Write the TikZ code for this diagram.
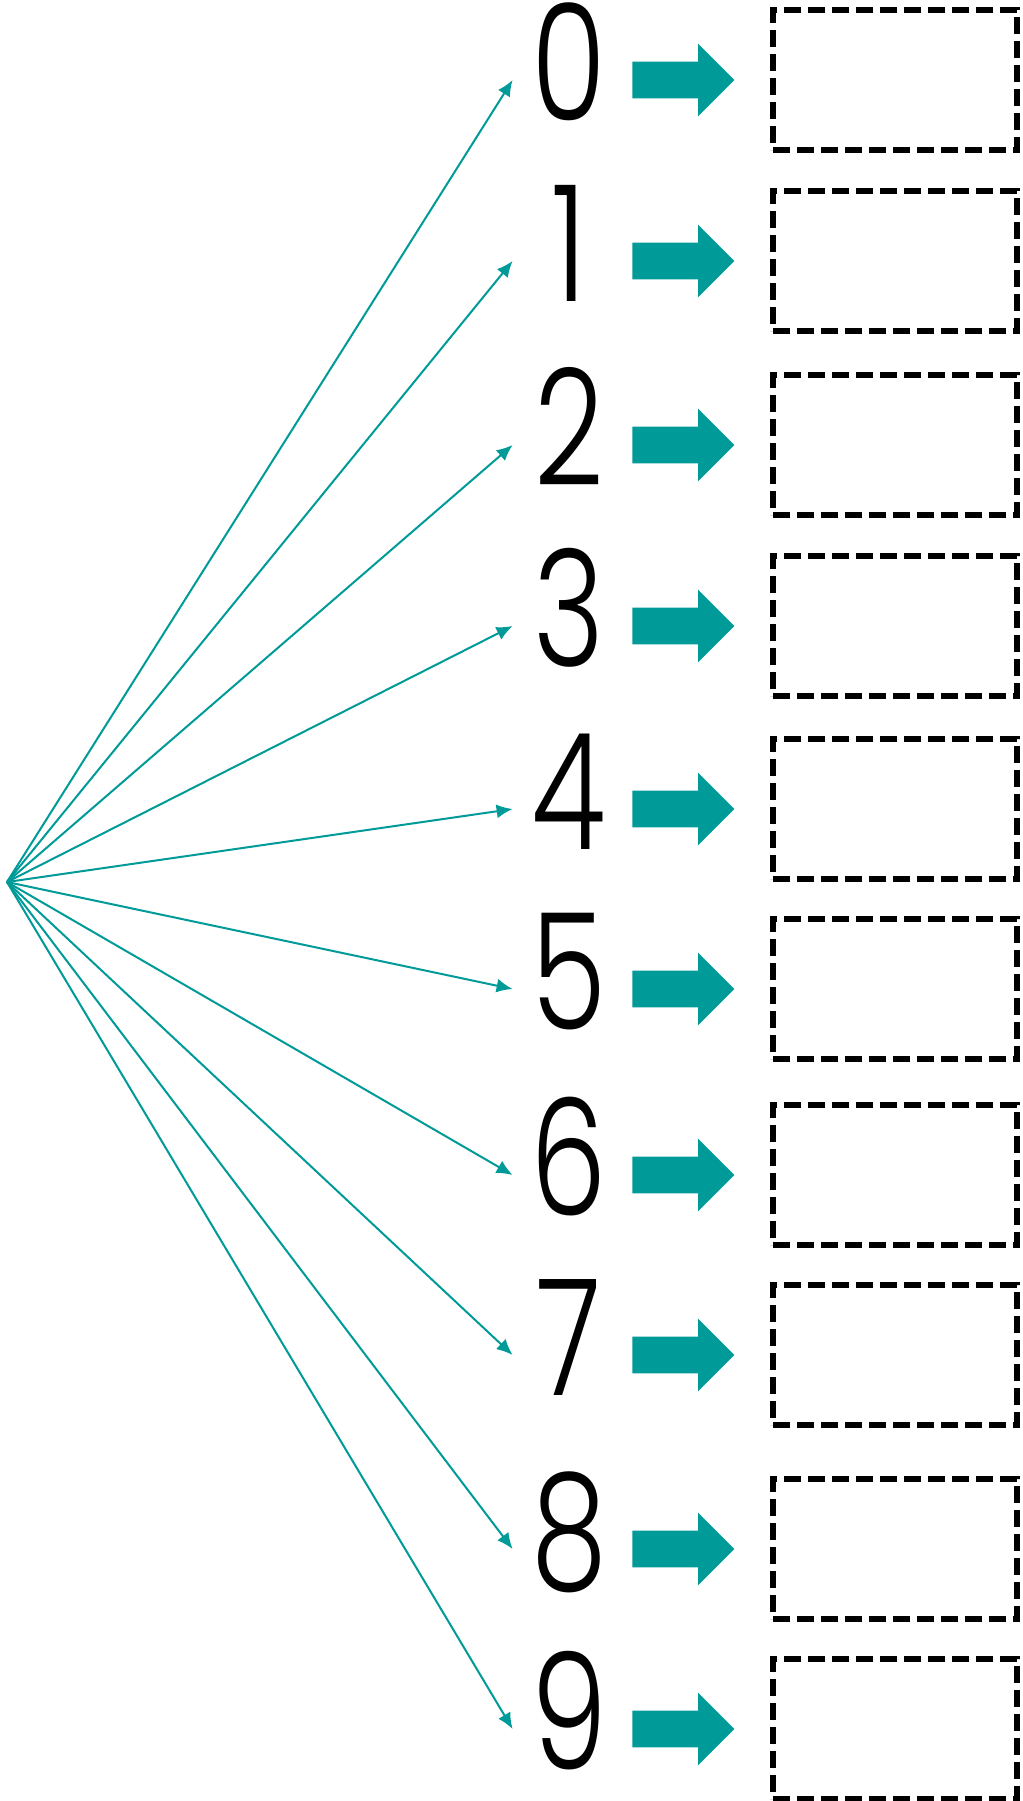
\documentclass[tikz,border=0pt]{standalone}
\usepackage{fontspec}
\setmainfont{Poppins}[UprightFont={* Light},FakeStretch=0.75]
\usetikzlibrary{shapes.arrows,arrows.meta,positioning}
\definecolor{tealarr}{RGB}{0,154,152}

\begin{document}
\begin{tikzpicture}[x=0.5pt,y=-0.5pt,
  digit/.style={inner sep=0pt,text height=53.5pt,text depth=13pt,minimum width=56pt,font=\fontsize{81}{85}\selectfont},
  blockarr/.style={single arrow,fill=tealarr,inner xsep=0pt,inner ysep=9pt,single arrow head extend=9pt,single arrow tip angle=90,minimum height=51pt,anchor=west},
  slot/.style={draw,dash pattern=on 8.5pt off 3.5pt,line width=2.8pt,minimum width=122pt,minimum height=70pt},
  fan/.style={tealarr,line width=1pt,-{Latex[length=8pt,width=7pt]}}]
\useasboundingbox (0,0) rectangle (1023,1801);

\coordinate (src) at (7,882);

\foreach \i/\y in {0/80,1/261,2/445,3/626,4/809,5/989,6/1175,7/1355,8/1549,9/1729} {
\node[digit] (d\i) at (569,\y) {\i};
\node[blockarr] (a\i) at (632,\y) {};
\node[slot] (b\i) at (895,\y) {};
\draw[fan] (src) -- (d\i.west);
}
\end{tikzpicture}
\end{document}
